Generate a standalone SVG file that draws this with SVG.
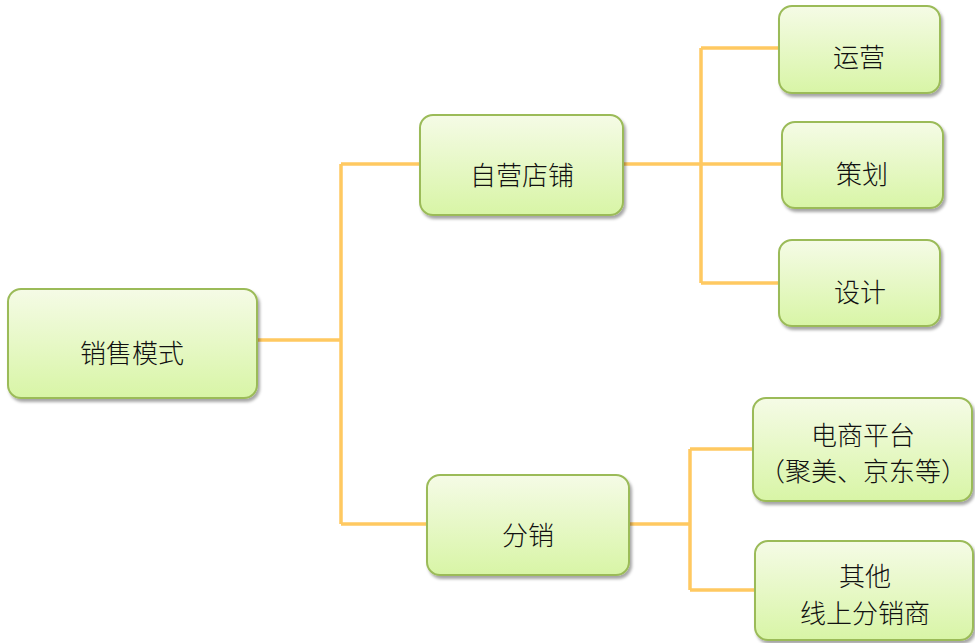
<svg xmlns="http://www.w3.org/2000/svg" width="975" height="643" viewBox="0 0 975 643">
<style>
.box{fill:url(#g);stroke:#9BBB59;stroke-width:2;filter:url(#sh)}
.t{font-family:"Noto Sans CJK SC","Liberation Sans",sans-serif;font-size:26px;fill:#111;text-anchor:middle;font-weight:300}
.c{fill:none;stroke:#FFC961;stroke-width:3.5}
</style>
<defs>
<linearGradient id="g" x1="0" y1="0" x2="0" y2="1">
<stop offset="0" stop-color="#F5FBE6"/>
<stop offset="1" stop-color="#D8F5A6"/>
</linearGradient>
<filter id="sh" x="-10%" y="-10%" width="125%" height="130%">
<feDropShadow dx="2" dy="3" stdDeviation="1.5" flood-color="#000" flood-opacity="0.35"/>
</filter>
</defs>
<g id="connectors">
<path class="c" d="M257,340 H341 M341,164 V524 M341,164 H420 M341,524 H427"/>
<path class="c" d="M623,164 H782 M701,48 V283 M701,48 H779 M701,283 H779"/>
<path class="c" d="M629,524 H690 M690,449 V590 M690,449 H753 M690,590 H755"/>
</g>
<g id="n-root"><rect class="box" x="8" y="289" width="249" height="109" rx="13"/><text class="t" x="132" y="363">销售模式</text></g>
<g id="n-self"><rect class="box" x="420" y="115" width="203" height="100" rx="13"/><text class="t" x="522" y="185">自营店铺</text></g>
<g id="n-yy"><rect class="box" x="779" y="6" width="161" height="87" rx="13"/><text class="t" x="859" y="67">运营</text></g>
<g id="n-ch"><rect class="box" x="782" y="122" width="161" height="86" rx="13"/><text class="t" x="862" y="184">策划</text></g>
<g id="n-sj"><rect class="box" x="779" y="240" width="161" height="86" rx="13"/><text class="t" x="860" y="302">设计</text></g>
<g id="n-fx"><rect class="box" x="427" y="475" width="202" height="100" rx="13"/><text class="t" x="528" y="545">分销</text></g>
<g id="n-ds"><rect class="box" x="753" y="398" width="219" height="103" rx="13"/><text class="t" x="863" y="445">电商平台</text><text class="t" x="863" y="481">（聚美、京东等）</text></g>
<g id="n-qt"><rect class="box" x="755" y="541" width="218" height="99" rx="13"/><text class="t" x="865" y="586">其他</text><text class="t" x="865" y="623">线上分销商</text></g>
</svg>
